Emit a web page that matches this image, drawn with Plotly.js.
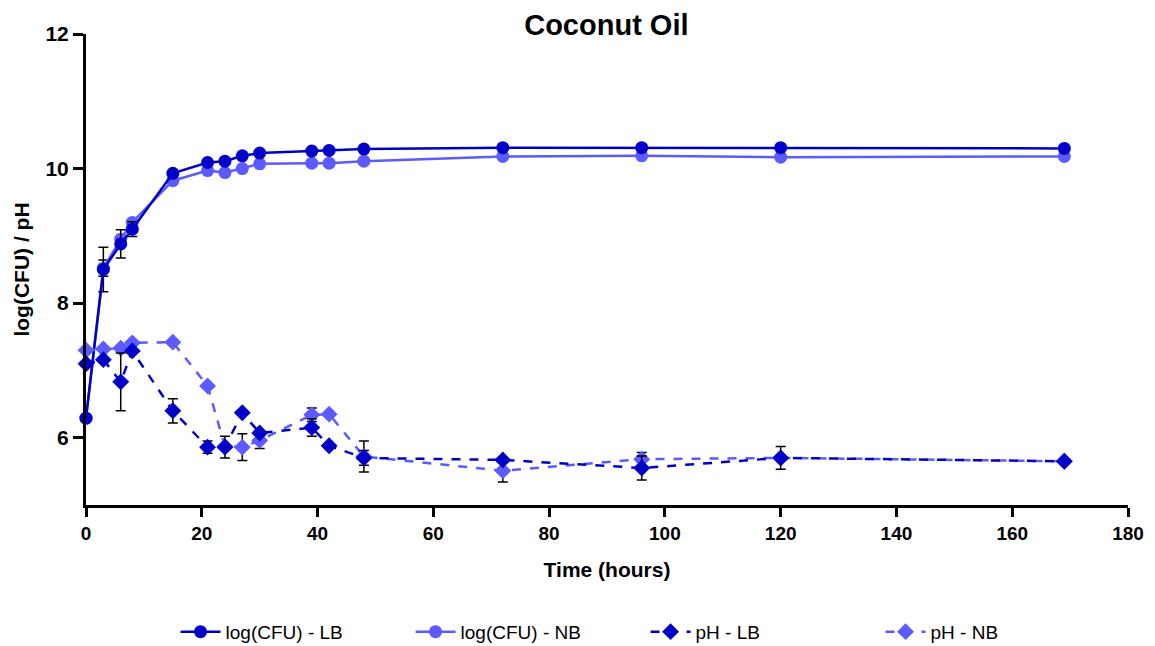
<!DOCTYPE html>
<html>
<head>
<meta charset="utf-8">
<script src="https://cdn.plot.ly/plotly-3.0.1.min.js"></script>
<style>html,body{margin:0;padding:0;background:#fff;}#chart{width:1155px;height:646px;}</style>
</head>
<body>
<div id="chart"></div>
<script>
const timeHours = [0, 3, 6, 8, 15, 21, 24, 27, 30, 39, 42, 48, 72, 96, 120, 169];

const logCfuLB = [6.29, 8.50, 8.88, 9.10, 9.93, 10.09, 10.11, 10.19, 10.23, 10.26, 10.27, 10.29, 10.31, 10.31, 10.31, 10.30];
const logCfuNB = [6.29, 8.52, 8.95, 9.20, 9.82, 9.97, 9.94, 10.00, 10.07, 10.08, 10.08, 10.11, 10.18, 10.19, 10.17, 10.18];
const phLB = [7.10, 7.16, 6.83, 7.29, 6.40, 5.86, 5.86, 6.37, 6.07, 6.15, 5.88, 5.70, 5.67, 5.55, 5.70, 5.65];
const phNB = [7.30, 7.32, 7.33, 7.41, 7.42, 6.77, 5.87, 5.86, 5.96, 6.34, 6.35, 5.72, 5.51, 5.68, 5.70, 5.65];

const errLogCfuLB = [NaN, 0.33, 0.21, 0.11, NaN, NaN, NaN, NaN, NaN, NaN, NaN, NaN, NaN, NaN, NaN, NaN];
const errLogCfuNB = [NaN, 0.12, NaN, NaN, NaN, NaN, NaN, NaN, NaN, NaN, NaN, NaN, NaN, NaN, NaN, NaN];
const errPhLB = [NaN, NaN, 0.43, NaN, 0.18, 0.09, 0.16, NaN, NaN, 0.13, NaN, 0.11, NaN, 0.18, 0.17, NaN];
const errPhNB = [NaN, NaN, NaN, NaN, NaN, NaN, NaN, 0.20, 0.12, 0.10, NaN, 0.23, 0.17, 0.10, NaN, NaN];

const seriesNames = ["log(CFU) - LB", "log(CFU) - NB", "pH - LB", "pH - NB"];
const xTicks = [0, 20, 40, 60, 80, 100, 120, 140, 160, 180];
const yTicks = [6, 8, 10, 12];

const darkBlue = "#0000c8";
const lightBlue = "#5b5bff";

function errObj(arr) {
  return {type: "data", array: arr, visible: true, color: "#000", thickness: 1.5, width: 5};
}

const traces = [
  {x: timeHours, y: logCfuNB, name: seriesNames[1], legendrank: 2, mode: "lines+markers", type: "scatter", cliponaxis: false,
   line: {color: lightBlue, width: 2.5}, marker: {symbol: "circle", size: 13, color: lightBlue},
   error_y: errObj(errLogCfuNB)},
  {x: timeHours, y: logCfuLB, name: seriesNames[0], legendrank: 1, mode: "lines+markers", type: "scatter", cliponaxis: false,
   line: {color: darkBlue, width: 2.5}, marker: {symbol: "circle", size: 13, color: darkBlue},
   error_y: errObj(errLogCfuLB)},
  {x: timeHours, y: phNB, name: seriesNames[3], legendrank: 4, mode: "lines+markers", type: "scatter", cliponaxis: false,
   line: {color: lightBlue, width: 2.5, dash: "dash"}, marker: {symbol: "diamond", size: 13, color: lightBlue},
   error_y: errObj(errPhNB)},
  {x: timeHours, y: phLB, name: seriesNames[2], legendrank: 3, mode: "lines+markers", type: "scatter", cliponaxis: false,
   line: {color: darkBlue, width: 2.5, dash: "dash"}, marker: {symbol: "diamond", size: 13, color: darkBlue},
   error_y: errObj(errPhLB)}
];

const fontFam = "Liberation Sans, Arial, sans-serif";

const layout = {
  width: 1155, height: 646,
  margin: {l: 86, r: 27, t: 34, b: 141},
  paper_bgcolor: "#fff", plot_bgcolor: "#fff",
  showlegend: true,
  title: {text: "Coconut Oil", x: 0.525, xanchor: "center", y: 0.962, yanchor: "middle",
          font: {family: fontFam, size: 29, color: "#000", weight: "bold"}},
  xaxis: {
    range: [0, 180], tickvals: xTicks, ticktext: xTicks.map(String),
    showgrid: false, zeroline: false, showline: true, linecolor: "#000", linewidth: 3,
    ticks: "outside", ticklen: 9, tickwidth: 3, tickcolor: "#000",
    tickfont: {family: fontFam, size: 19, color: "#000", weight: "bold"},
    title: {text: "Time (hours)", standoff: 20, font: {family: fontFam, size: 21, color: "#000", weight: "bold"}},
    automargin: false
  },
  yaxis: {
    range: [5, 12], tickvals: yTicks, ticktext: yTicks.map(String),
    showgrid: false, zeroline: false, showline: true, linecolor: "#000", linewidth: 3,
    ticks: "outside", ticklen: 10, tickwidth: 3, tickcolor: "#000",
    tickfont: {family: fontFam, size: 21, color: "#000", weight: "bold"},
    title: {text: "log(CFU) / pH", standoff: 11, font: {family: fontFam, size: 21, color: "#000", weight: "bold"}},
    automargin: false
  },
  legend: {
    orientation: "h", x: 0.537, xanchor: "center", yref: "container", y: 0.022, yanchor: "middle",
    font: {family: fontFam, size: 19, color: "#000"},
    itemwidth: 40, tracegroupgap: 0, entrywidth: 180, entrywidthmode: "pixels"
  }
};

Plotly.newPlot("chart", traces, layout, {displayModeBar: false, staticPlot: true});
</script>
</body>
</html>
